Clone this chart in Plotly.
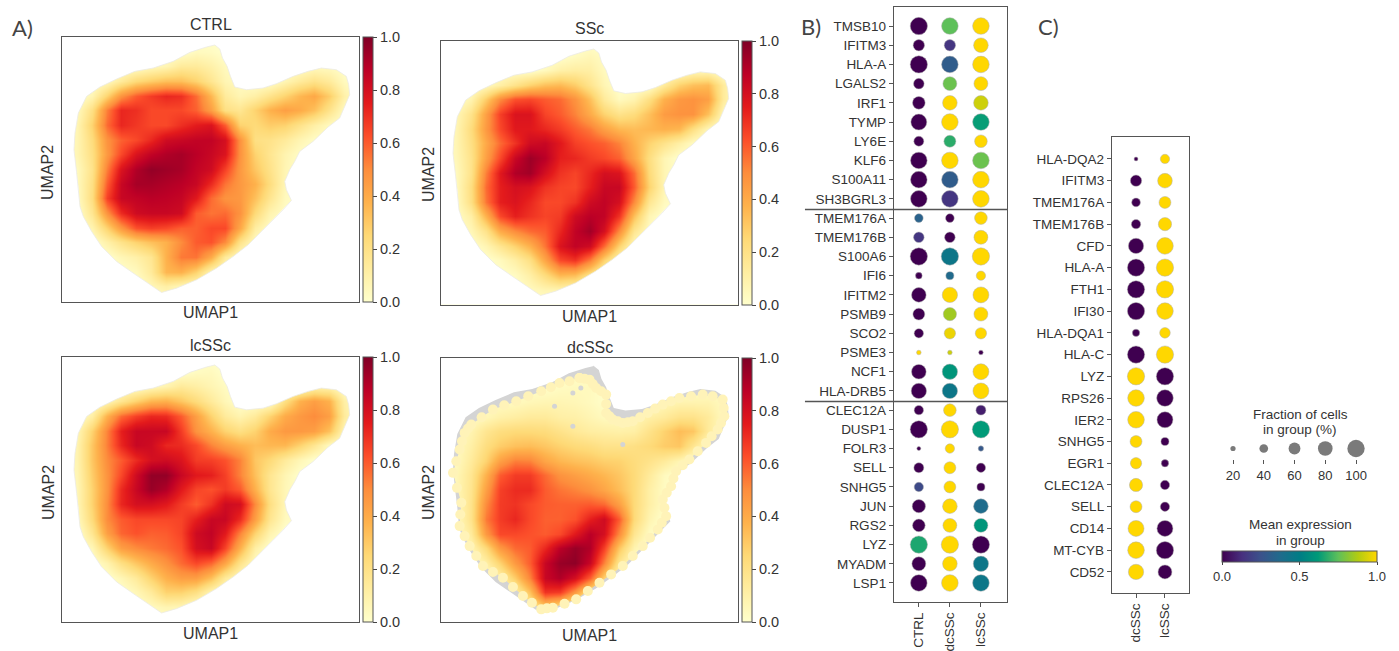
import plotly.graph_objects as go

W, H = 1399, 651
TXT = "#333333"
FRAME = "#555555"
FONT = "Liberation Sans"

ylorrd = [[0, "#ffffcc"], [.125, "#ffeda0"], [.25, "#fed976"], [.375, "#feb24c"], [.5, "#fd8d3c"],
          [.625, "#fc4e2a"], [.75, "#e31a1c"], [.875, "#bd0026"], [1, "#800026"]]
viridis_gold = [[0, "#3f0050"], [.13, "#47307f"], [.25, "#3b528b"], [.38, "#1f6c8c"], [.5, "#007d85"],
                [.62, "#009a78"], [.75, "#5ec05a"], [.88, "#b4cc10"], [1, "#ffd700"]]

# Density estimates, percent of maximum, rows top to bottom
ctrl_density = [
[0,0,0,0,0,0,0,0,0,0,0,0,0,0,0,0,0,0,0,0,0],
[0,0,0,0,0,0,0,0,0,4,3,0,0,0,0,0,0,0,0,0,0],
[0,0,0,0,0,0,4,7,14,14,10,4,0,0,0,0,0,3,3,0,0],
[0,0,0,4,14,24,29,33,33,27,17,7,3,0,0,7,14,19,14,4,0],
[0,0,7,27,48,60,67,72,70,57,36,14,7,11,19,27,36,41,29,10,0],
[0,4,21,53,72,70,64,64,64,59,44,21,17,27,38,44,40,33,19,4,0],
[0,7,27,57,72,68,64,64,70,75,78,60,27,24,29,27,19,11,4,0,0],
[0,7,23,48,59,64,72,82,84,86,86,80,48,21,19,14,7,2,0,0,0],
[0,7,21,46,64,78,86,90,92,88,84,78,48,27,17,8,2,0,0,0,0],
[0,4,19,53,78,90,96,94,92,86,82,66,46,31,19,7,0,0,0,0,0],
[0,4,21,60,84,92,92,90,88,84,71,55,46,38,22,6,0,0,0,0,0],
[0,3,22,66,84,86,88,87,85,76,57,48,46,33,17,4,0,0,0,0,0],
[0,0,17,48,71,82,84,84,82,60,55,57,48,24,8,2,0,0,0,0,0],
[0,0,8,27,46,62,66,64,59,59,64,64,41,12,2,0,0,0,0,0,0],
[0,0,0,10,19,27,33,38,50,60,62,50,19,3,0,0,0,0,0,0,0],
[0,0,0,0,6,10,17,38,54,55,40,14,2,0,0,0,0,0,0,0,0],
[0,0,0,0,0,4,14,36,38,27,7,0,0,0,0,0,0,0,0,0,0],
[0,0,0,0,0,0,6,11,6,2,0,0,0,0,0,0,0,0,0,0,0],
[0,0,0,0,0,0,0,0,0,0,0,0,0,0,0,0,0,0,0,0,0],
]
ssc_density = [
[0,0,0,0,0,0,0,0,0,0,0,0,0,0,0,0,0,0,0,0,0],
[0,0,0,0,0,0,0,0,0,3,6,3,0,0,0,0,0,0,0,0,0],
[0,0,0,0,0,0,0,4,10,12,11,4,0,0,0,0,0,4,4,0,0],
[0,0,0,4,11,19,27,33,35,29,18,7,0,0,0,14,27,33,35,14,0],
[0,0,8,29,50,62,64,60,57,48,33,14,4,8,21,38,46,48,44,14,0],
[0,6,19,44,66,78,78,65,60,52,40,27,19,23,33,45,48,48,33,6,0],
[0,7,23,46,64,76,76,72,67,60,54,44,36,34,36,38,36,21,6,0,0],
[0,7,21,41,57,69,82,84,76,66,62,59,52,38,27,19,11,3,0,0,0],
[0,6,19,44,64,84,94,88,74,72,67,64,59,42,22,7,0,0,0,0,0],
[0,4,19,53,76,90,93,80,69,65,72,80,78,57,24,7,0,0,0,0,0],
[0,4,22,57,74,80,78,69,65,64,74,84,84,60,27,7,0,0,0,0,0],
[0,3,21,55,74,78,72,64,64,69,82,86,80,50,17,4,0,0,0,0,0],
[0,2,11,38,64,74,69,65,67,82,88,86,69,33,7,0,0,0,0,0,0],
[0,0,6,19,40,50,57,60,72,86,93,80,50,17,3,0,0,0,0,0,0],
[0,0,0,7,17,27,38,55,78,86,82,57,27,4,0,0,0,0,0,0,0],
[0,0,0,0,4,11,21,42,64,69,53,27,7,0,0,0,0,0,0,0,0],
[0,0,0,0,0,3,11,23,36,34,19,7,0,0,0,0,0,0,0,0,0],
[0,0,0,0,0,0,4,7,7,4,0,0,0,0,0,0,0,0,0,0,0],
[0,0,0,0,0,0,0,0,0,0,0,0,0,0,0,0,0,0,0,0,0],
]
lcssc_density = [
[0,0,0,0,0,0,0,0,0,0,0,0,0,0,0,0,0,0,0,0,0],
[0,0,0,0,0,0,0,0,0,3,4,0,0,0,0,0,0,0,0,0,0],
[0,0,0,0,0,0,4,8,14,11,7,3,0,0,0,0,0,7,7,0,0],
[0,0,0,6,17,27,36,38,31,23,14,6,0,0,0,21,38,44,38,11,0],
[0,0,11,38,57,66,72,71,60,44,27,14,8,14,27,40,46,50,44,14,0],
[0,6,27,52,74,84,84,84,67,48,38,27,21,27,40,46,46,44,33,7,0],
[0,8,31,53,72,84,82,72,71,64,52,44,38,34,36,36,27,17,4,0,0],
[0,8,31,50,60,71,80,82,78,67,66,62,52,31,24,14,6,0,0,0,0],
[0,7,29,48,64,82,96,96,84,76,74,66,52,33,17,7,0,0,0,0,0],
[0,6,27,48,71,84,95,90,76,65,62,67,60,38,17,6,0,0,0,0,0],
[0,6,27,50,72,80,80,76,67,60,69,82,80,50,21,6,0,0,0,0,0],
[0,4,24,50,60,64,64,64,65,74,84,84,71,44,17,4,0,0,0,0,0],
[0,0,17,44,58,62,59,60,65,82,86,76,52,27,8,0,0,0,0,0,0],
[0,0,6,27,44,50,54,57,62,80,84,65,38,11,0,0,0,0,0,0,0],
[0,0,0,8,21,31,40,48,57,64,58,42,19,3,0,0,0,0,0,0,0],
[0,0,0,0,6,14,27,38,44,44,33,14,3,0,0,0,0,0,0,0,0],
[0,0,0,0,0,6,14,27,27,21,7,0,0,0,0,0,0,0,0,0,0],
[0,0,0,0,0,0,4,7,6,0,0,0,0,0,0,0,0,0,0,0,0],
[0,0,0,0,0,0,0,0,0,0,0,0,0,0,0,0,0,0,0,0,0],
]
dcssc_density = [
[0,0,0,0,0,0,0,0,0,0,0,0,0,0,0,0,0,0,0,0,0],
[0,0,0,0,0,0,0,0,0,1,1,0,0,0,0,0,0,0,0,0,0],
[0,0,0,0,0,1,1,1,3,4,4,1,0,0,0,0,0,1,1,0,0],
[0,0,1,3,3,4,6,7,7,6,4,1,0,0,1,6,8,8,8,4,0],
[0,1,3,6,10,12,14,14,11,10,7,4,4,6,11,14,19,19,14,4,0],
[0,3,8,17,22,24,24,23,19,15,12,11,10,11,19,27,34,31,14,3,0],
[0,4,11,22,29,33,34,31,27,24,22,19,19,21,24,29,31,17,4,0,0],
[0,4,14,27,44,53,52,42,36,33,31,28,27,23,19,14,7,0,0,0,0],
[0,6,17,38,60,67,67,57,48,44,40,36,31,24,14,4,0,0,0,0,0],
[0,6,18,44,66,71,71,60,55,52,48,42,34,24,11,3,0,0,0,0,0],
[0,4,19,50,67,69,64,60,59,59,60,57,44,24,11,3,0,0,0,0,0],
[0,3,19,54,67,72,64,59,59,62,74,82,60,24,8,0,0,0,0,0,0],
[0,2,14,46,64,64,62,60,64,76,88,80,50,17,3,0,0,0,0,0,0],
[0,0,7,24,46,57,60,72,88,95,90,66,31,8,0,0,0,0,0,0,0],
[0,0,0,11,27,46,60,84,95,97,84,52,17,2,0,0,0,0,0,0,0],
[0,0,0,0,11,29,52,84,90,80,59,27,4,0,0,0,0,0,0,0,0],
[0,0,0,0,0,11,33,69,67,46,19,4,0,0,0,0,0,0,0,0,0],
[0,0,0,0,0,0,14,29,21,7,0,0,0,0,0,0,0,0,0,0,0],
[0,0,0,0,0,0,0,0,0,0,0,0,0,0,0,0,0,0,0,0,0],
]

grid_x = [0,44.6,89.2,133.8,178.4,223,267.6,312.2,356.8,401.4,446,490.6,535.2,579.8,624.4,669,713.6,758.2,802.8,847.4,892]
grid_y = [0,44,88,132,176,220,264,308,352,396,440,484,528,572,616,660,704,748,792]

# Shared UMAP silhouette, and the occupied edge for dcSSc
sil_x = [459,474,482,496,506,519,554,604,644,694,739,779,824,854,861,864,849,834,799,754,714,699,684,669,674,689,664,629,594,559,514,464,404,344,299,264,214,164,119,89,64,54,49,44,36,39,49,74,114,164,219,274,334,384,434,459]
sil_y = [24,36,63,88,118,150,158,153,140,118,103,93,98,118,143,173,208,243,270,313,343,373,398,433,458,490,518,553,588,623,658,693,728,753,766,743,708,673,628,583,538,508,448,408,338,288,228,178,150,126,103,93,73,46,30,24]
dc_x = [416,446,466,496,496,516,546,576,621,666,716,786,846,851,831,796,746,706,691,666,676,651,606,546,476,406,336,301,246,186,126,86,56,61,36,56,71,91,156,226,301,356,416]
dc_y = [60,65,90,110,165,185,195,190,165,140,120,110,125,175,215,255,305,340,385,425,475,515,565,625,675,725,750,755,715,660,625,565,505,435,345,275,225,200,155,130,100,75,60]
dc_bubble_x = [386,330,262,190,122,81,63,46,48,58,71,106,156,216,273,318,371,441,511,576,628,663,671,678,698,726,771,813,841,849,816,751,691,643,598,561,531,506,496,481,431,456]
dc_bubble_y = [70,88,115,142,178,212,250,310,390,470,535,595,643,688,735,752,738,700,650,595,540,495,450,405,362,322,280,235,195,150,115,115,130,152,178,193,190,175,138,100,62,78]
dc_hole_x = [341,396,396,546,420]
dc_hole_y = [145,105,205,260,90]

# Dot plot B
b_genes = ["TMSB10","IFITM3","HLA-A","LGALS2","IRF1","TYMP","LY6E","KLF6","S100A11","SH3BGRL3",
           "TMEM176A","TMEM176B","S100A6","IFI6","IFITM2","PSMB9","SCO2","PSME3","NCF1","HLA-DRB5",
           "CLEC12A","DUSP1","FOLR3","SELL","SNHG5","JUN","RGS2","LYZ","MYADM","LSP1"]
b_groups = ["CTRL","dcSSc","lcSSc"]
b_frac_ctrl  = [100,57,100,52,66,90,48,95,95,95,40,52,100,28,80,61,44,17,80,85,44,100,14,48,44,70,66,100,75,95]
b_frac_dcssc = [95,57,95,75,80,95,61,95,95,95,40,52,100,36,85,70,57,17,85,85,66,100,44,61,61,80,75,100,80,95]
b_frac_lcssc = [95,80,95,75,80,95,66,95,95,95,66,75,100,44,90,75,57,17,90,90,48,100,21,44,36,80,75,100,85,95]
b_expr_ctrl  = [0,0,0,0,0,0,0,0,0,0,.33,.15,0,0,0,0,0,1,0,0,0,0,0,0,.22,0,0,.66,0,0]
b_expr_dcssc = [.75,.15,.3,.77,1,1,.68,1,.3,.15,0,0,.45,.37,1,.85,.97,.92,.6,.45,1,1,1,1,1,1,1,1,1,1]
b_expr_lcssc = [1,1,1,1,.92,.63,1,.77,1,1,1,1,1,1,1,1,1,0,1,1,.08,.62,.28,0,0,.38,.6,0,.45,.45]

# Dot plot C
c_genes = ["HLA-DQA2","IFITM3","TMEM176A","TMEM176B","CFD","HLA-A","FTH1","IFI30","HLA-DQA1","HLA-C",
           "LYZ","RPS26","IER2","SNHG5","EGR1","CLEC12A","SELL","CD14","MT-CYB","CD52"]
c_groups = ["dcSSc","lcSSc"]
c_frac_dcssc = [14,57,40,44,85,100,100,100,32,100,100,95,95,61,57,70,61,90,95,85]
c_frac_lcssc = [44,80,61,70,95,100,100,95,52,100,100,95,90,36,32,44,44,90,100,75]
c_expr_dcssc = [0,0,0,0,0,0,0,0,0,0,1,1,1,1,1,1,1,1,1,1]
c_expr_lcssc = [1,1,1,1,1,1,1,1,1,1,0,0,0,0,0,0,0,0,0,0]

legend_fracs = [20,40,60,80,100]
max_diam = 17.3

def diam(fracs):
    return [max_diam * (f / 100) ** 0.75 for f in fracs]

def dx(a, b):
    return [a / W, b / W]

def dy(top, bottom):
    return [1 - bottom / H, 1 - top / H]

fig = go.Figure()
layout = {}
ann = []

def text(x, y, s, size=16, angle=0, anchor="center", color=TXT, family=FONT):
    ann.append(dict(x=x / W, y=1 - y / H, xref="paper", yref="paper", text=s, showarrow=False,
                    xanchor=anchor, yanchor="middle", textangle=angle,
                    font=dict(size=size, color=color, family=family)))

def keyhole(xs, ys):
    # frame clockwise, hole traced the other way so the inside stays clear
    rx, ry = xs[::-1], ys[::-1]
    xo = rx[0]
    return ([xo, 892, 892, 0, 0, xo] + rx + [xo], [0, 0, 793, 793, 0, 0] + ry + [0])

panels = [
    ("CTRL", ctrl_density, 62, 359, 37, 301.5, 363, 25, 313, 48, 173),
    ("SSc", ssc_density, 441, 738, 41, 304.5, 742, 29, 316, 428, 175),
    ("lcSSc", lcssc_density, 62, 359, 357, 622, 363, 345, 633, 48, 493),
    ("dcSSc", dcssc_density, 441, 738, 358, 622, 742, 347, 635, 428, 493),
]
for k, (name, dens, x0, x1, y0, y1, cbx, ty, ux, uy2x, uy2y) in enumerate(panels, start=1):
    xa, ya = f"x{k}", f"y{k}"
    layout[f"xaxis{k}"] = dict(domain=dx(x0, x1), range=[0, 892], showticklabels=False, ticks="", showgrid=False,
                               zeroline=False, showline=True, mirror=True, linecolor=FRAME, linewidth=1.3, anchor=ya)
    layout[f"yaxis{k}"] = dict(domain=dy(y0, y1), range=[793, 0], showticklabels=False, ticks="", showgrid=False,
                               zeroline=False, showline=True, mirror=True, linecolor=FRAME, linewidth=1.3, anchor=xa)
    fig.add_trace(go.Heatmap(
        x=grid_x, y=grid_y, z=[[v / 100 for v in row] for row in dens], zmin=0, zmax=1, zsmooth="best",
        colorscale=ylorrd, xaxis=xa, yaxis=ya, hoverinfo="skip",
        colorbar=dict(x=cbx / W, xanchor="left", xpad=0, y=1 - y0 / H, yanchor="top", ypad=0,
                      lenmode="pixels", len=y1 - y0, thickness=10, tickvals=[0, .2, .4, .6, .8, 1],
                      tickformat=".1f", ticks="outside", ticklen=4, tickcolor="#444", tickwidth=1,
                      tickfont=dict(size=14.5, color=TXT, family=FONT), outlinecolor=FRAME, outlinewidth=1)))
    if name == "dcSSc":
        mx, my = keyhole(dc_x, dc_y)
        fig.add_trace(go.Scatter(x=mx, y=my, mode="lines", fill="toself", fillcolor="#d4d4d4",
                                 line=dict(width=0), xaxis=xa, yaxis=ya, hoverinfo="skip", showlegend=False))
    mx, my = keyhole(sil_x, sil_y)
    fig.add_trace(go.Scatter(x=mx, y=my, mode="lines", fill="toself", fillcolor="#ffffff",
                             line=dict(width=0), xaxis=xa, yaxis=ya, hoverinfo="skip", showlegend=False))
    if name == "dcSSc":
        fig.add_trace(go.Scatter(x=dc_x + dc_bubble_x, y=dc_y + dc_bubble_y, mode="markers", xaxis=xa, yaxis=ya,
                                 hoverinfo="skip", showlegend=False,
                                 marker=dict(size=10, color="#fff3b8", line=dict(width=0))))
        fig.add_trace(go.Scatter(x=dc_hole_x, y=dc_hole_y, mode="markers", xaxis=xa, yaxis=ya, hoverinfo="skip",
                                 showlegend=False, marker=dict(size=5, color="#d4d4d4", line=dict(width=0))))
    else:
        fig.add_trace(go.Scatter(x=sil_x, y=sil_y, mode="lines", xaxis=xa, yaxis=ya, hoverinfo="skip",
                                 showlegend=False, line=dict(width=0.8, color="#ecebe4")))
    text((x0 + x1) / 2, ty, name)
    text((x0 + x1) / 2, ux, "UMAP1")
    text(uy2x, uy2y, "UMAP2", angle=-90)

def dotplot(k, genes, groups, fracs, exprs, fx0, fx1, fy0, fy1, xr, yr, cbar=None):
    xa, ya = f"x{k}", f"y{k}"
    layout[f"xaxis{k}"] = dict(domain=dx(fx0, fx1), type="category", categoryorder="array", categoryarray=groups,
                               range=xr, showgrid=False, zeroline=False, showline=True, mirror=True,
                               linecolor=FRAME, linewidth=1.3, ticks="outside", ticklen=4, tickcolor="#555",
                               tickangle=-90, tickfont=dict(size=13.5, color=TXT, family=FONT), anchor=ya)
    layout[f"yaxis{k}"] = dict(domain=dy(fy0, fy1), type="category", categoryorder="array", categoryarray=genes,
                               range=yr, showgrid=False, zeroline=False, showline=True, mirror=True,
                               linecolor=FRAME, linewidth=1.3, ticks="outside", ticklen=4, tickcolor="#555",
                               tickfont=dict(size=13.5, color=TXT, family=FONT), anchor=xa)
    for j, (g, fr, ex) in enumerate(zip(groups, fracs, exprs)):
        m = dict(size=diam(fr), color=ex, cmin=0, cmax=1, colorscale=viridis_gold,
                 line=dict(width=0.5, color="#b0b0b0"), opacity=1)
        if cbar and j == 0:
            m["colorbar"] = cbar
            m["showscale"] = True
        fig.add_trace(go.Scatter(x=[g] * len(genes), y=genes, mode="markers", marker=m, xaxis=xa, yaxis=ya,
                                 showlegend=False, hoverinfo="skip"))

cbar = dict(orientation="h", x=1222 / W, xanchor="left", xpad=0, y=1 - 551 / H, yanchor="top", ypad=0,
            lenmode="pixels", len=155, thickness=11, tickvals=[0, .5, 1], tickformat=".1f", ticks="outside",
            ticklen=3, tickcolor="#444", tickfont=dict(size=13, color=TXT, family=FONT),
            outlinecolor=FRAME, outlinewidth=1)
dotplot(5, b_genes, b_groups, [b_frac_ctrl, b_frac_dcssc, b_frac_lcssc], [b_expr_ctrl, b_expr_dcssc, b_expr_lcssc],
        894, 1007, 7, 602, [-0.8, 2.84], [29.99, -0.99], cbar)
dotplot(6, c_genes, c_groups, [c_frac_dcssc, c_frac_lcssc], [c_expr_dcssc, c_expr_lcssc],
        1112, 1189, 137, 593, [-0.83, 1.83], [19.97, -1.01])

# B separators
shapes = [dict(type="line", xref="x5 domain", yref="y5", x0=-0.788, x1=1, y0=v, y1=v,
               line=dict(color="#555555", width=1.5)) for v in (9.55, 19.55)]

# Size legend
layout["xaxis7"] = dict(domain=dx(1220, 1372), range=[11.54, 110.4], showgrid=False, zeroline=False, showline=False,
                        tickvals=legend_fracs, ticks="outside", ticklen=4, tickcolor="#555",
                        tickfont=dict(size=13, color=TXT, family=FONT), anchor="y7")
layout["yaxis7"] = dict(domain=dy(438, 459), range=[-1, 1], visible=False, anchor="x7")
fig.add_trace(go.Scatter(x=legend_fracs, y=[0] * 5, mode="markers", xaxis="x7", yaxis="y7", showlegend=False,
                         hoverinfo="skip", marker=dict(size=diam(legend_fracs), color="#7a7a7a", opacity=1,
                                                       line=dict(width=0))))

text(1300, 414, "Fraction of cells", size=13.5)
text(1300, 430, "in group (%)", size=13.5)
text(1300, 524, "Mean expression", size=13.5)
text(1300, 540, "in group", size=13.5)
text(10, 27, "A)", size=22, anchor="left", color="#444", family="Lato")
text(799, 26, "B)", size=22, anchor="left", color="#444", family="Lato")
text(1036, 26, "C)", size=22, anchor="left", color="#444", family="Lato")

fig.update_layout(width=W, height=H, autosize=False, margin=dict(l=0, r=0, t=0, b=0, pad=0),
                  paper_bgcolor="white", plot_bgcolor="white", annotations=ann, shapes=shapes,
                  showlegend=False, font=dict(family=FONT, color=TXT), **layout)
fig.write_html("out.html", config={"displayModeBar": False},
               post_script="document.body.style.margin='0';document.documentElement.style.overflow='hidden';")
